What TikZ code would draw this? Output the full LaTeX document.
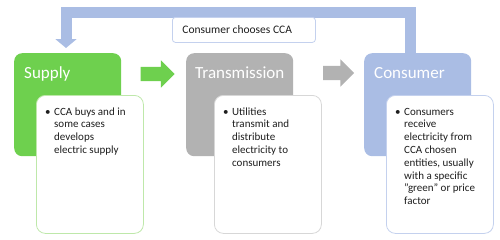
\documentclass[tikz,border=0pt]{standalone}
\usepackage{fontspec}
\setmainfont{Carlito}
\usetikzlibrary{arrows.meta,shapes.arrows}
\definecolor{sgreen}{RGB}{110,208,78}
\definecolor{sgrey}{RGB}{178,178,178}
\definecolor{sblue}{RGB}{170,189,228}
\definecolor{lgreen}{RGB}{190,232,170}
\definecolor{lgrey}{RGB}{215,215,215}
\definecolor{lblue}{RGB}{196,209,238}
\definecolor{txt}{RGB}{30,30,30}
\newcommand{\bul}[1]{\begin{tabular}[t]{@{}l@{\hspace{3.5pt}}l@{}}\textbullet & \begin{tabular}[t]{@{}l@{}}#1\end{tabular}\end{tabular}}
\begin{document}
\begin{tikzpicture}[x=1pt,y=-1pt,
  headbox/.style={rounded corners=8pt, minimum width=107pt, minimum height=103pt, anchor=north west, inner sep=0pt},
  textbox/.style={draw, fill=white, rounded corners=9pt, minimum width=107pt, minimum height=138pt, anchor=north west, inner sep=0pt, line width=0.8pt},
  titletext/.style={anchor=base west, text=white, font=\fontsize{17}{20}\selectfont, inner sep=0pt},
  bodytext/.style={anchor=base west, inner sep=0pt, text=txt, font=\fontsize{11}{12.8}\selectfont},
  blockarrow/.style={single arrow, inner sep=7pt, single arrow head extend=6.5pt, single arrow tip angle=90, draw=none},
  fbline/.style={draw=sblue, line width=11pt, line join=miter, -{Triangle[width=21pt,length=9pt]}, shorten >=5pt}
]
\useasboundingbox (0,0) rectangle (500,239);

% header boxes
\node[headbox, fill=sgreen] (supply) at (14,53) {};
\node[headbox, fill=sgrey] (trans) at (186,53) {};
\node[headbox, fill=sblue] (consumer) at (364,53) {};

\node[titletext] (supplyt) at (24,78) {Supply};
\node[titletext] (transt) at (195,78) {Transmission};
\node[titletext] (consumert) at (374,78) {Consumer};

% text boxes
\node[textbox, draw=lgreen] (supplytxt) at (36,95) {};
\node[textbox, draw=lgrey] (transtxt) at (214,95) {};
\node[textbox, draw=lblue] (consumertxt) at (386,95) {};

\node[bodytext] (supplyb) at (45,115) {\bul{CCA buys and in\\some cases\\develops\\electric supply}};
\node[bodytext] (transb) at (223,115) {\bul{Utilities\\transmit and\\distribute\\electricity to\\consumers}};
\node[bodytext] (consumerb) at (395,115) {\bul{Consumers\\receive\\electricity from\\CCA chosen\\entities, usually\\with a specific\\"green" or price\\factor}};

% block arrows
\node[blockarrow, fill=sgreen, minimum height=34pt] (arr1) at (154,74) {};
\node[blockarrow, fill=sgrey, minimum height=31pt] (arr2) at (335,73) {};

% feedback connector
\coordinate (fb1) at (410,12);
\coordinate (fb2) at (66,12);
\draw[fbline] (consumer.north -| fb1) -- (fb1) -- (fb2) -- (supply.north -| fb2);

% label
\node[draw=lblue, fill=white, rounded corners=3pt, anchor=north west, inner xsep=10pt, inner ysep=0pt, minimum height=25pt, text=txt, font=\fontsize{11.5}{13}\selectfont, line width=0.8pt] (lab) at (172,17) {\makebox[123pt][l]{Consumer chooses CCA}};
\end{tikzpicture}
\end{document}
